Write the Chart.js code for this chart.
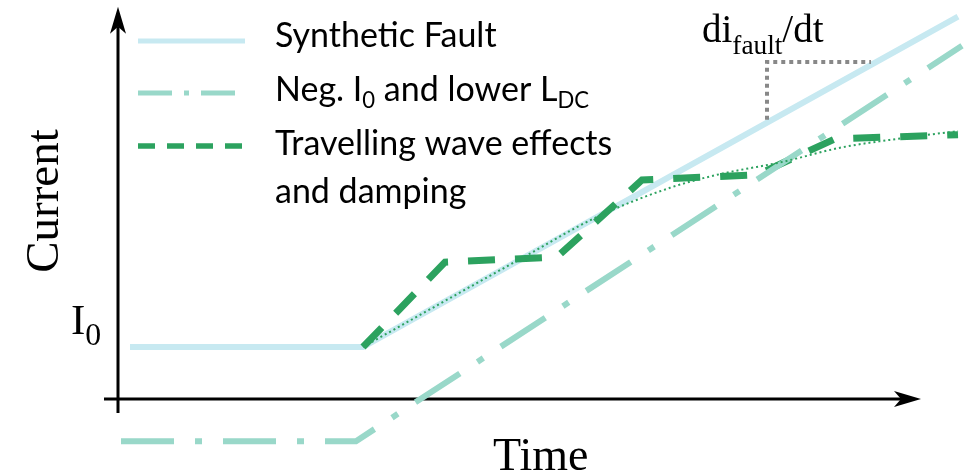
<!DOCTYPE html>
<html>
<head>
<meta charset="utf-8">
<script src="https://cdn.jsdelivr.net/npm/chart.js@4"></script>
<style>
  html, body { margin: 0; padding: 0; background: #fff; }
  #wrap { width: 972px; height: 476px; }
</style>
</head>
<body>
<div id="wrap"><canvas id="chart"></canvas></div>
<script>
// time and current in arbitrary units, I0 = 1
var faultT = [0.12, 2.45, 8.40];
var faultI = [1.00, 1.00, 7.35];
var negT = [0.03, 2.38, 8.44];
var negI = [-0.81, -0.81, 6.79];
var waveT = [2.45, 3.27, 4.39, 5.24, 6.39, 7.17, 8.40];
var waveI = [1.00, 2.63, 2.73, 4.21, 4.31, 5.00, 5.08];
var dampT = [2.45, 3.32, 4.04, 4.79, 5.52, 5.99, 6.65, 7.22, 7.79, 8.40];
var dampI = [1.00, 1.94, 2.71, 3.50, 4.06, 4.31, 4.56, 4.83, 5.00, 5.15];
var slopeT = [6.49, 6.49, 7.53];
var slopeI = [5.37, 6.48, 6.48];

// legend text, [text, isSubscript]
var legendRows = [
    [['Synthetic Fault', false]],
    [['Neg. I', false], ['0', true], [' and lower L', false], ['DC', true]],
    [['Travelling wave effects', false]],
    [['and damping', false]]
];

function pts(xs, ys) {
    var out = [];
    for (var i = 0; i < xs.length; i++) out.push({x: xs[i], y: ys[i]});
    return out;
}

var blue = '#c7e9f1';
var teal = '#99d8c9';
var green = '#2ca25f';

var legendSamples = [
    {color: blue, width: 5, dash: [], y: 41, x2: 245},
    {color: teal, width: 5, dash: [34, 12, 5, 12], y: 93, x2: 236},
    {color: green, width: 5.5, dash: [17, 12], y: 146, x2: 244}
];
var legendBase = [47, 101, 155, 203];

function richText(ctx, runs, x, y, size, family, subScale, subDrop) {
    for (var i = 0; i < runs.length; i++) {
        var sub = runs[i][1];
        ctx.font = (sub ? size * subScale : size) + 'px ' + family;
        ctx.fillText(runs[i][0], x, sub ? y + subDrop : y);
        x += ctx.measureText(runs[i][0]).width;
    }
}

function arrowHead(ctx, x, y, ang) {
    ctx.save();
    ctx.translate(x, y);
    ctx.rotate(ang);
    ctx.beginPath();
    ctx.moveTo(0, 0);
    ctx.lineTo(-27, -8);
    ctx.lineTo(-20, 0);
    ctx.lineTo(-27, 8);
    ctx.closePath();
    ctx.fill();
    ctx.restore();
}

var axesPlugin = {
    id: 'axesArrows',
    beforeDatasetsDraw: function(chart) {
        var ctx = chart.ctx;
        var xs = chart.scales.x, ys = chart.scales.y;
        var x0 = xs.getPixelForValue(0), y0 = ys.getPixelForValue(0);
        var yTop = ys.getPixelForValue(7.54), yBot = ys.getPixelForValue(-0.27);
        var xL = xs.getPixelForValue(-0.14), xR = xs.getPixelForValue(8.03);
        ctx.save();
        ctx.strokeStyle = '#000';
        ctx.fillStyle = '#000';
        ctx.lineWidth = 3;
        ctx.beginPath();
        ctx.moveTo(x0, yBot);
        ctx.lineTo(x0, yTop + 20);
        ctx.moveTo(xL, y0);
        ctx.lineTo(xR - 20, y0);
        ctx.stroke();
        arrowHead(ctx, x0, yTop, -Math.PI / 2);
        arrowHead(ctx, xR, y0, 0);
        ctx.restore();
    },
    afterDraw: function(chart) {
        var ctx = chart.ctx;
        var ys = chart.scales.y;
        ctx.save();
        ctx.fillStyle = '#000';
        ctx.textBaseline = 'alphabetic';
        var serif = '"Liberation Serif", "Times New Roman", serif';

        // axis titles
        ctx.save();
        ctx.translate(58, 201);
        ctx.rotate(-Math.PI / 2);
        ctx.textAlign = 'center';
        ctx.font = '47px ' + serif;
        ctx.fillText('Current', 0, 0);
        ctx.restore();
        ctx.textAlign = 'left';
        ctx.font = '46px ' + serif;
        ctx.fillText('Time', 493, 470);

        // I0 marker
        var yI0 = ys.getPixelForValue(1);
        richText(ctx, [['I', false], ['0', true]], 71, yI0 - 13, 43, serif, 0.74, 11);

        // slope annotation
        richText(ctx, [['di', false], ['fault', true], ['/dt', false]], 702, 42, 39, serif, 0.7, 12);

        // legend
        for (var i = 0; i < legendSamples.length; i++) {
            var s = legendSamples[i];
            ctx.save();
            ctx.strokeStyle = s.color;
            ctx.lineWidth = s.width;
            ctx.setLineDash(s.dash);
            ctx.beginPath();
            ctx.moveTo(138, s.y);
            ctx.lineTo(s.x2, s.y);
            ctx.stroke();
            ctx.restore();
        }
        for (var j = 0; j < legendRows.length; j++) {
            richText(ctx, legendRows[j], 275, legendBase[j], 34, 'Lato, "Open Sans", sans-serif', 0.65, 7);
        }
        ctx.restore();
    }
};

var ctx = document.getElementById('chart');
var chart = new Chart(ctx, {
    type: 'line',
    data: {
        datasets: [{
            label: 'Synthetic Fault',
            data: pts(faultT, faultI),
            borderColor: blue,
            borderWidth: 6,
            order: 5
        }, {
            label: 'Travelling wave effects and damping',
            data: pts(waveT, waveI),
            borderColor: green,
            borderWidth: 7,
            borderDash: [27, 20],
            order: 4
        }, {
            label: 'Neg. I0 and lower LDC',
            data: pts(negT, negI),
            borderColor: teal,
            borderWidth: 6,
            borderDash: [53, 21, 7, 21],
            order: 3
        }, {
            label: 'damped',
            data: pts(dampT, dampI),
            borderColor: green,
            borderWidth: 2,
            borderDash: [2, 3],
            cubicInterpolationMode: 'monotone',
            order: 2
        }, {
            label: 'slope',
            data: pts(slopeT, slopeI),
            borderColor: '#888888',
            borderWidth: 4,
            borderDash: [4, 4],
            order: 1
        }]
    },
    options: {
        responsive: true,
        maintainAspectRatio: false,
        animation: false,
        layout: { padding: 0 },
        elements: {
            point: { radius: 0, hoverRadius: 0 },
            line: { tension: 0, borderCapStyle: 'butt', borderJoinStyle: 'miter', fill: false }
        },
        scales: {
            x: { type: 'linear', min: -1.18, max: 8.54, display: false },
            y: { type: 'linear', min: -1.48, max: 7.67, display: false }
        },
        plugins: {
            legend: { display: false },
            tooltip: { enabled: false }
        }
    },
    plugins: [axesPlugin]
});
</script>
</body>
</html>
